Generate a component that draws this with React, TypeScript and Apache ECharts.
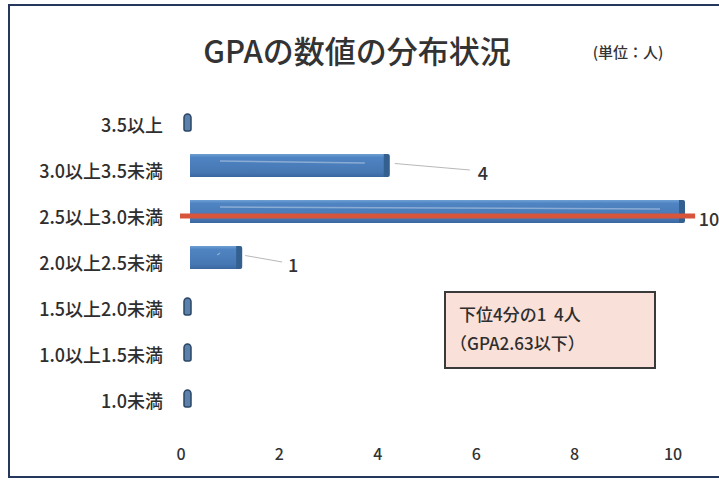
import React, { useEffect, useRef } from "react";
import * as echarts from "echarts";

const categories = [
  "3.5以上",
  "3.0以上3.5未満",
  "2.5以上3.0未満",
  "2.0以上2.5未満",
  "1.5以上2.0未満",
  "1.0以上1.5未満",
  "1.0未満",
];
const counts = [0, 4, 10, 1, 0, 0, 0];
const xTicks = [0, 2, 4, 6, 8, 10];
const redLineCategory = "2.5以上3.0未満";
const redLineRange = [-0.02, 10.45];
const titleText = "GPAの数値の分布状況";
const unitText = "(単位：人)";
const noteLines = ["下位4分の1  4人", "（GPA2.63以下）"];

// layout only: label shift from bar end and leader line span
const labelShift = [0, 105, 36, 63, 0, 0, 0];
const leaderSpan: (number[] | null)[] = [null, [17, 92], null, [15, 52], null, null, null];

const FONT = "'Noto Sans CJK JP', 'Noto Sans', sans-serif";

export default function App() {
  const ref = useRef<HTMLDivElement>(null);
  useEffect(() => {
    if (!ref.current) return;
    const chart = echarts.init(ref.current, null, { renderer: "svg" });
    const renderItem = (params: any, api: any) => {
      const v = api.value(0);
      const c = api.value(1);
      const idx = params.dataIndex;
      const p0 = api.coord([0, c]);
      const p = api.coord([v, c]);
      const cy = p[1] - 4.5;
      if (v === 0) {
        return {
          type: "rect",
          shape: { x: p0[0] + 3, y: p[1] - 10, width: 7, height: 17, r: [4, 4, 2, 2] },
          style: { fill: "#5b80aa", stroke: "#2b4566", lineWidth: 1.5 },
        };
      }
      const x0 = p0[0] + 9;
      const xe = p[0] + 7;
      const h = 23;
      const top = cy - h / 2;
      const children: any[] = [
        {
          type: "rect",
          shape: { x: x0, y: top, width: xe - x0, height: h },
          style: {
            fill: new echarts.graphic.LinearGradient(0, 0, 0, 1, [
              { offset: 0, color: "#6f9fd4" },
              { offset: 0.15, color: "#4f84c2" },
              { offset: 0.8, color: "#4677b3" },
              { offset: 1, color: "#3a679f" },
            ]),
          },
        },
        {
          type: "rect",
          shape: { x: xe - 1, y: top, width: 6, height: h, r: [0, 2, 2, 0] },
          style: { fill: "#33608f" },
        },
        {
          type: "line",
          shape: { x1: x0 + 30, y1: top + 7, x2: xe - 20, y2: top + 9 },
          style: { stroke: "rgba(255,255,255,0.35)", lineWidth: 1.5 },
        },
        {
          type: "text",
          z2: 20,
          style: {
            text: String(v),
            x: p[0] + labelShift[idx],
            y: p[1] + 2,
            align: "center",
            verticalAlign: "middle",
            font: `500 18px ${FONT}`,
            fill: "#333",
          },
        },
      ];
      const ls = leaderSpan[idx];
      if (ls) {
        children.push({
          type: "line",
          shape: { x1: p[0] + ls[0], y1: cy - 2, x2: p[0] + ls[1], y2: p[1] },
          style: { stroke: "#b8b8b8", lineWidth: 1 },
        });
      }
      return { type: "group", children };
    };

    chart.setOption({
      animation: false,
      backgroundColor: "#ffffff",
      grid: { left: 181, right: 46, top: 101, bottom: 57, containLabel: false },
      xAxis: {
        type: "value",
        min: 0,
        max: 10,
        interval: 2,
        axisLine: { show: false },
        axisTick: { show: false },
        splitLine: { show: false },
        axisLabel: {
          margin: 22,
          fontSize: 16,
          fontWeight: 500,
          color: "#333",
          fontFamily: FONT,
          formatter: (val: number) => (xTicks.includes(val) ? String(val) : ""),
        },
      },
      yAxis: {
        type: "category",
        inverse: true,
        data: categories,
        axisLine: { show: false },
        axisTick: { show: false },
        axisLabel: { margin: 18, fontSize: 18, fontWeight: 500, color: "#2e2e2e", fontFamily: FONT },
      },
      series: [
        {
          type: "custom",
          renderItem,
          encode: { x: 0, y: 1 },
          data: counts.map((v, i) => [v, i]),
          z: 2,
        },
        {
          type: "line",
          data: redLineRange.map((x) => [x, redLineCategory]),
          symbol: "none",
          clip: false,
          lineStyle: { color: "#d6553b", width: 5 },
          z: 5,
        },
      ],
      graphic: [
        {
          type: "rect",
          shape: { x: 9, y: 5, width: 730, height: 472 },
          style: { fill: "none", stroke: "#25375a", lineWidth: 2 },
          z: 100,
        },
        {
          type: "text",
          x: 357,
          y: 49,
          style: {
            text: titleText,
            align: "center",
            verticalAlign: "middle",
            font: `500 31px ${FONT}`,
            fill: "#333",
          },
        },
        {
          type: "text",
          x: 628,
          y: 51,
          style: {
            text: unitText,
            align: "center",
            verticalAlign: "middle",
            font: `500 15px ${FONT}`,
            fill: "#333",
          },
        },
        {
          type: "rect",
          shape: { x: 445, y: 292, width: 210, height: 76 },
          style: { fill: "#f9e0d8", stroke: "#3a3a3a", lineWidth: 2 },
        },
        {
          type: "text",
          x: 459,
          y: 313,
          style: { text: noteLines[0], verticalAlign: "middle", font: `500 17px ${FONT}`, fill: "#2e2e2e" },
        },
        {
          type: "text",
          x: 450,
          y: 342,
          style: { text: noteLines[1], verticalAlign: "middle", font: `500 17px ${FONT}`, fill: "#2e2e2e" },
        },
      ],
    });
    return () => chart.dispose();
  }, []);
  return (
    <div
      ref={ref}
      style={{ position: "absolute", left: 0, top: 0, width: 719, height: 480 }}
    />
  );
}
